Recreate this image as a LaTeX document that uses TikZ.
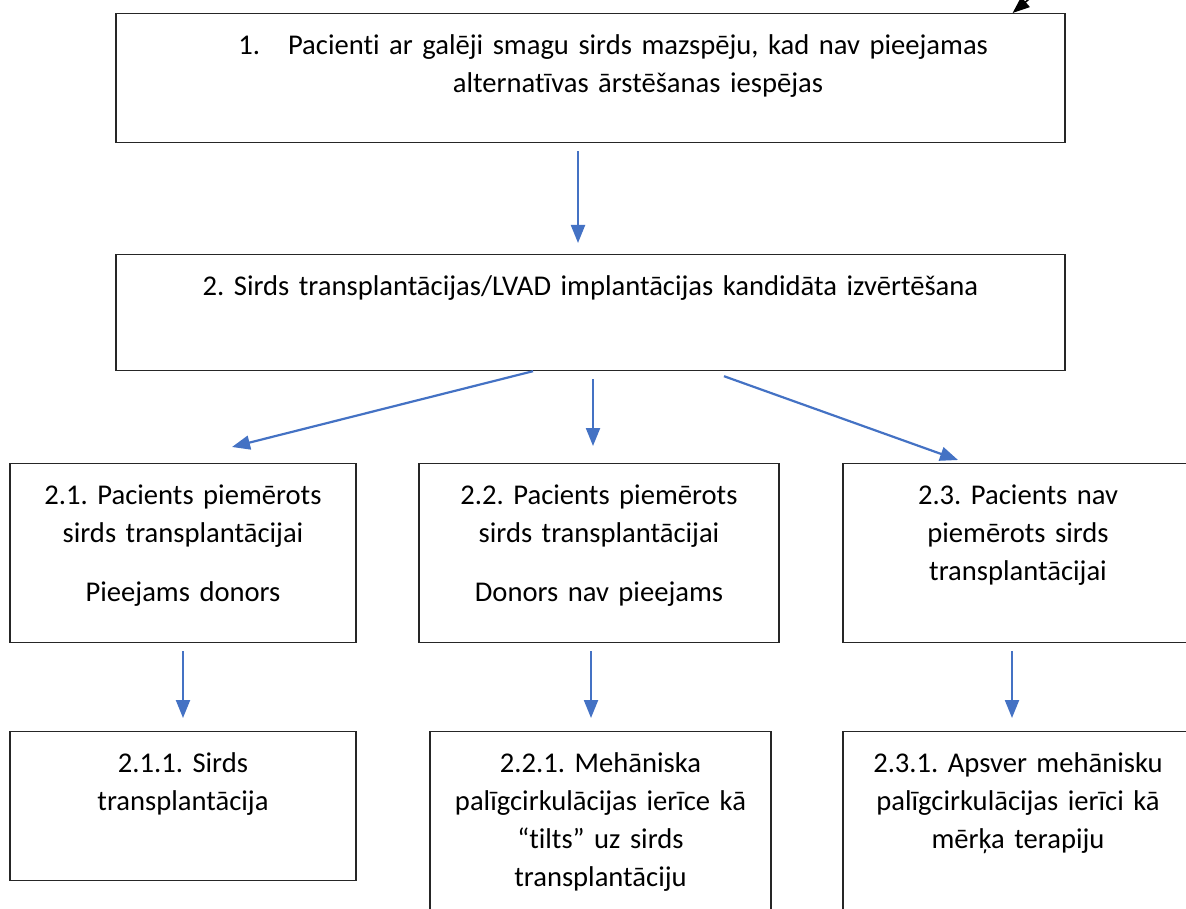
\documentclass[tikz,border=0pt]{standalone}
\usepackage{fontspec}
\setmainfont{Carlito}[Ligatures=NoCommon]
\usepackage{tikz}
\usetikzlibrary{arrows.meta, positioning, calc}
\frenchspacing

\definecolor{flowblue}{RGB}{68,114,196}

\tikzset{
  box/.style={draw=black!85, line width=1.2pt, anchor=north, align=center, inner sep=0pt,
    text height=41pt, font=\fontsize{28.6pt}{38pt}\selectfont},
  flow/.style={draw=flowblue, line width=2.2pt, -{Triangle[length=18pt,width=14pt]}}
}

\begin{document}
\begin{tikzpicture}[x=1pt, y=-1pt]
  \useasboundingbox (0,0) rectangle (1186,909);
  \clip (0,0) rectangle (1186,909);

  % Boxes
  \node[box, text width=949pt, text depth=88pt] (pat) at (590.5, 13)
    {\hspace*{95pt}\llap{1.\hspace{28pt}}Pacienti ar galēji smagu sirds mazspēju, kad nav pieejamas\\
     \hspace*{95pt}alternatīvas ārstēšanas iespējas};
  \node[box, text width=949pt, text depth=75pt] (cand) at (590.5, 254)
    {2. Sirds transplantācijas/LVAD implantācijas kandidāta izvērtēšana};

  \node[box, text width=346pt, text depth=138pt] (fit) at (183, 463)
    {2.1. Pacients piemērots\\ sirds transplantācijai\\[21pt] Pieejams donors};
  \node[box, text width=360pt, text depth=138pt] (wait) at (599, 463)
    {2.2. Pacients piemērots\\ sirds transplantācijai\\[21pt] Donors nav pieejams};
  \node[box, text width=350pt, text depth=138pt] (unfit) at (1018, 463)
    {2.3. Pacients nav\\ piemērots sirds\\ transplantācijai};

  \node[box, text width=346pt, text depth=108pt] (htx) at (183, 731)
    {2.1.1. Sirds\\ transplantācija};
  \node[box, text width=341pt, text depth=160pt] (bridge) at (600.5, 731)
    {2.2.1. Mehāniska\\ palīgcirkulācijas ierīce kā\\ “tilts” uz sirds\\ transplantāciju};
  \node[box, text width=350pt, text depth=160pt] (dest) at (1018, 731)
    {2.3.1. Apsver mehānisku\\ palīgcirkulācijas ierīci kā\\ mērķa terapiju};

  % Arrows
  \coordinate (ext) at (1042, -12);
  \draw[line width=1.6pt, -{Triangle[length=17pt,width=13pt]}] (ext) -- ([xshift=-53pt]pat.north east);

  \draw[flow] ([xshift=-12.5pt, yshift=-8pt]pat.south) -- ([xshift=-12.5pt, yshift=11pt]cand.north);

  \draw[flow] ([xshift=-57.5pt]cand.south) -- ([xshift=49pt, yshift=16pt]fit.north);
  \draw[flow] ([xshift=2.5pt, yshift=-8pt]cand.south) -- ([xshift=-6pt, yshift=17pt]wait.north);
  \draw[flow] ([xshift=133.5pt, yshift=-5pt]cand.south) -- ([xshift=-60pt, yshift=3pt]unfit.north);

  \draw[flow] ([yshift=-8pt]fit.south) -- ([yshift=13pt]htx.north);
  \draw[flow] ([xshift=-8pt, yshift=-8pt]wait.south) -- ([xshift=-9.5pt, yshift=13pt]bridge.north);
  \draw[flow] ([xshift=-6pt, yshift=-8pt]unfit.south) -- ([xshift=-6pt, yshift=13pt]dest.north);
\end{tikzpicture}
\end{document}
